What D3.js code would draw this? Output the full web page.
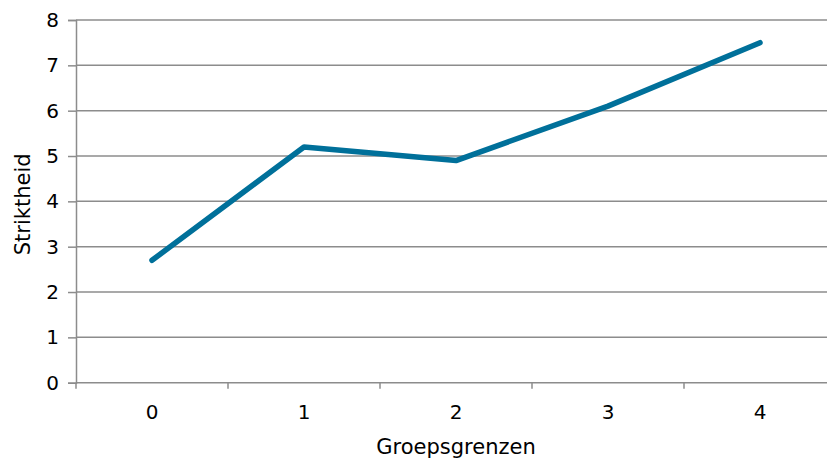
<!DOCTYPE html>
<html><head><meta charset="utf-8">
<script src="https://cdn.jsdelivr.net/npm/d3@7"></script>
<style>html,body{margin:0;padding:0;background:#fff;overflow:hidden}</style>
</head><body><svg id="c" width="827" height="460"></svg>
<script>
const categories = ["0","1","2","3","4"];
const values = [2.7, 5.2, 4.9, 6.1, 7.5];
const yTicks = [0,1,2,3,4,5,6,7,8];
const xTitle = "Groepsgrenzen";
const yTitle = "Striktheid";

(function(){
const svg = d3.select("#c");
const pL = 76, pR = 836, pT = 20, pB = 382.7;
const font = "'DejaVu Sans', Verdana, sans-serif";
const x = d3.scaleBand().domain(categories).range([pL, pR]).padding(0);
const y = d3.scaleLinear().domain([0, 8]).range([pB, pT]);
const grid = "#8c8c8c";

svg.append("g").selectAll("line").data(yTicks.filter(d => d > 0)).join("line")
  .attr("x1", pL).attr("x2", pR).attr("y1", d => y(d)).attr("y2", d => y(d))
  .attr("stroke", grid).attr("stroke-width", 1.5);

const yAxis = svg.append("g").attr("transform", `translate(${pL},0)`)
  .call(d3.axisLeft(y).tickValues(yTicks).tickSize(8).tickPadding(9));
yAxis.select(".domain").attr("stroke", grid).attr("stroke-width", 1.5);
yAxis.selectAll(".tick line").attr("stroke", grid).attr("stroke-width", 1.5);
yAxis.selectAll("text").attr("font-family", font).attr("font-size", 20).attr("fill", "#000");

const xAxisG = svg.append("g").attr("transform", `translate(0,${pB})`);
xAxisG.append("line").attr("x1", pL).attr("x2", pR).attr("stroke", grid).attr("stroke-width", 1.5);
const boundaries = categories.map(c => x(c)).concat([pR]);
xAxisG.selectAll("line.t").data(boundaries).join("line").attr("class","t")
  .attr("x1", d => d).attr("x2", d => d).attr("y1", 0).attr("y2", 6)
  .attr("stroke", grid).attr("stroke-width", 1.5);
xAxisG.selectAll("text").data(categories).join("text")
  .attr("x", d => x(d) + x.bandwidth()/2).attr("y", 36)
  .attr("text-anchor", "middle").attr("font-family", font).attr("font-size", 20)
  .text(d => d);

const line = d3.line().x((d,i) => x(categories[i]) + x.bandwidth()/2).y(d => y(d));
svg.append("path").datum(values).attr("d", line)
  .attr("fill", "none").attr("stroke", "#00709a").attr("stroke-width", 5.5)
  .attr("stroke-linecap", "round").attr("stroke-linejoin", "round");

svg.append("text").attr("x", (pL + pR)/2).attr("y", 454).attr("text-anchor", "middle")
  .attr("font-family", font).attr("font-size", 21).text(xTitle);
svg.append("text").attr("transform", `translate(30,${(pT+pB)/2 + 3}) rotate(-90)`)
  .attr("text-anchor", "middle").attr("font-family", font).attr("font-size", 21).text(yTitle);
})();
</script></body></html>
